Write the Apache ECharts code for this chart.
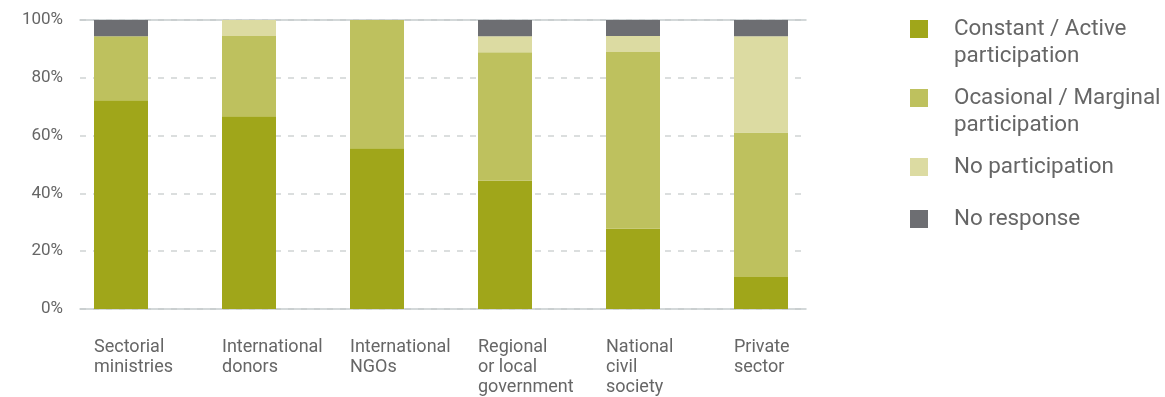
<!DOCTYPE html>
<html>
<head>
<meta charset="utf-8">
<script src="https://cdn.jsdelivr.net/npm/echarts@6/dist/echarts.min.js"></script>
<style>
  html, body { margin: 0; padding: 0; background: #fff; }
  #chart { width: 1165px; height: 397px; }
</style>
</head>
<body>
<div id="chart"></div>
<script>
let chart = echarts.init(document.getElementById("chart"));

// categories and shares (%)
let categories = ['Sectorial\nministries', 'International\ndonors', 'International\nNGOs',
  'Regional\nor local\ngovernment', 'National\ncivil\nsociety', 'Private\nsector'];
let constantActive = [72.2, 66.7, 55.6, 44.4, 27.8, 11.1];
let occasionalMarginal = [22.2, 27.8, 44.4, 44.4, 61.1, 50.0];
let noParticipation = [0, 5.6, 0, 5.6, 5.6, 33.3];
let noResponse = [5.6, 0, 0, 5.6, 5.6, 5.6];
let yTicks = [0, 20, 40, 60, 80, 100];

let names = ['Constant / Active\nparticipation', 'Ocasional / Marginal\nparticipation',
  'No participation', 'No response'];
let colors = ['#a0a61a', '#bec15e', '#dcdba2', '#6d6e72'];
let values = [constantActive, occasionalMarginal, noParticipation, noResponse];

let font = 'Roboto';
let textColor = '#666';

// one legend per entry; a blank first line keeps the square level with the first text line
let legendTops = [-11.5, 57.5, 153.5, 205.5];
let legends = names.map(function (n, i) {
  return {
    data: [n],
    left: 910,
    top: legendTops[i],
    padding: 0,
    icon: 'rect',
    itemWidth: 18,
    itemHeight: 18,
    selectedMode: false,
    formatter: function (name) {
      return name.indexOf('\n') >= 0 ? '\n' + name : name;
    },
    textStyle: {
      fontFamily: font, fontSize: 22.4, color: textColor, lineHeight: 27,
      padding: [0, 0, 0, 21]
    }
  };
});

let series = names.map(function (n, i) {
  return {
    name: n,
    type: 'bar',
    stack: 'all',
    xAxisIndex: 2,
    yAxisIndex: 1,
    barWidth: 54,
    itemStyle: { color: colors[i] },
    data: values[i]
  };
});

let option = {
  animation: false,
  legend: legends,
  grid: [
    { left: 80, top: 20, width: 726, height: 289 },   // frame + y axis
    { left: 57, top: 20, width: 768, height: 289 },   // bars
    { left: 30, top: 20, width: 768, height: 289 }    // left-aligned labels
  ],
  xAxis: [
    { type: 'value', gridIndex: 0, min: 0, max: 1, position: 'bottom',
      axisLine: { show: true, lineStyle: { color: '#c5cccd', width: 1.5 } },
      axisTick: { show: false }, axisLabel: { show: false }, splitLine: { show: false } },
    { type: 'value', gridIndex: 0, min: 0, max: 1, position: 'top',
      axisLine: { show: true, lineStyle: { color: '#c5cccd', width: 1.5 } },
      axisTick: { show: false }, axisLabel: { show: false }, splitLine: { show: false } },
    { type: 'category', gridIndex: 1, data: categories, show: false },
    { type: 'category', gridIndex: 2, data: categories,
      axisLine: { show: false }, axisTick: { show: false },
      axisLabel: { align: 'left', margin: 29, fontFamily: font, fontSize: 18,
        lineHeight: 20, color: textColor, interval: 0 } }
  ],
  yAxis: [
    { type: 'value', gridIndex: 0, min: yTicks[0], max: yTicks[yTicks.length - 1], interval: 20,
      axisLine: { show: false }, axisTick: { show: false },
      axisLabel: { formatter: '{value}%', margin: 17, fontFamily: font, fontSize: 17, color: textColor },
      splitLine: { lineStyle: { color: '#cfd3d4', type: [6, 7], width: 1.5 } } },
    { type: 'value', gridIndex: 1, min: 0, max: 100, show: false },
    { type: 'value', gridIndex: 2, min: 0, max: 100, show: false }
  ],
  series: series
};

chart.setOption(option);
</script>
</body>
</html>
